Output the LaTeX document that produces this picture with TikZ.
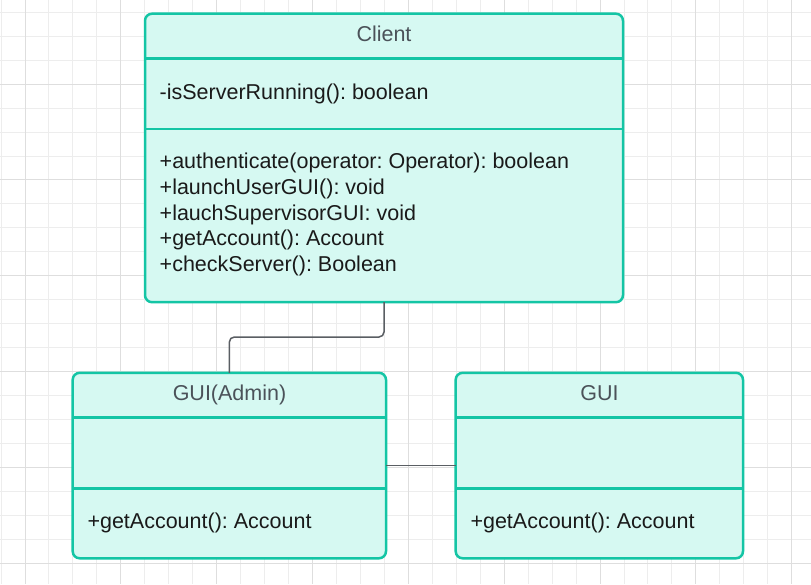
\documentclass[tikz,border=0pt]{standalone}
\usepackage{fontspec}
\setmainfont{Liberation Sans}
\usetikzlibrary{calc}
\definecolor{tealline}{HTML}{14C5A5}
\definecolor{tealfill}{HTML}{D6F9F2}
\definecolor{titlegray}{HTML}{4B5259}
\definecolor{bodytext}{HTML}{1A1A1A}
\definecolor{conngray}{HTML}{5A5E63}
\definecolor{gridminor}{HTML}{EDEDED}
\definecolor{gridmajor}{HTML}{DEDEDE}
\frenchspacing
\begin{document}
\begin{tikzpicture}[x=1pt,y=-1pt,
  classbox/.style={draw=tealline, fill=tealfill, line width=2.5pt, rounded corners=7pt, inner sep=0pt, outer sep=0pt, anchor=north west},
  divider/.style={draw=tealline, line width=2.5pt},
  title/.style={anchor=base, text=titlegray, font=\fontsize{21.5}{25.85}\selectfont, inner sep=0pt},
  member/.style={anchor=base west, text=bodytext, font=\fontsize{21.5}{25.85}\selectfont, inner sep=0pt},
  conn/.style={draw=conngray, line width=1.5pt, rounded corners=5pt},
  minorline/.style={draw=gridminor, line width=1pt},
  majorline/.style={draw=gridmajor, line width=1pt}]
\useasboundingbox (0,0) rectangle (811,584);
\fill[white] (0,0) rectangle (811,584);
% grid
\foreach \k in {-1,...,34} {
  \pgfmathsetmacro\xx{25+23.96*\k}
  \draw[minorline] (\xx,0) -- (\xx,584);
}
\foreach \k in {0,...,24} {
  \pgfmathsetmacro\yy{12.3+23.95*\k}
  \draw[minorline] (0,\yy) -- (811,\yy);
}
\foreach \k in {0,4,...,32} {
  \pgfmathsetmacro\xx{25+23.96*\k}
  \draw[majorline] (\xx,0) -- (\xx,584);
}
\foreach \k in {3,7,...,23} {
  \pgfmathsetmacro\yy{12.3+23.95*\k}
  \draw[majorline] (0,\yy) -- (811,\yy);
}
% class boxes
\node[classbox, minimum width=478pt, minimum height=288.5pt] (client) at (145,13.7) {};
\node[classbox, minimum width=313.3pt, minimum height=185.5pt] (admin) at (72.7,372.8) {};
\node[classbox, minimum width=287.3pt, minimum height=185.5pt] (gui) at (455.7,372.8) {};
% dividers
\draw[divider] (client.west |- 0,58.5) -- (client.east |- 0,58.5);
\draw[divider] (client.west |- 0,129) -- (client.east |- 0,129);
\draw[divider] (admin.west |- 0,417.5) -- (admin.east |- 0,417.5);
\draw[divider] (admin.west |- 0,488.3) -- (admin.east |- 0,488.3);
\draw[divider] (gui.west |- 0,417.5) -- (gui.east |- 0,417.5);
\draw[divider] (gui.west |- 0,488.3) -- (gui.east |- 0,488.3);
% texts
\node[title] (clienttitle) at (384,41.7) {Client};
\node[member] (cattr) at (159.5,99) {-isServerRunning(): boolean};
\node[member] (cm1) at (159.5,168.3) {+authenticate(operator: Operator): boolean};
\node[member] (cm2) at (159.5,194.2) {+launchUserGUI(): void};
\node[member] (cm3) at (159.5,220) {+lauchSupervisorGUI: void};
\node[member] (cm4) at (159.5,245.9) {+getAccount(): Account};
\node[member] (cm5) at (159.5,271.7) {+checkServer(): Boolean};
\node[title] (admintitle) at (229.5,400.7) {GUI(Admin)};
\node[member] (am1) at (87.3,528.3) {+getAccount(): Account};
\node[title] (guititle) at (599.5,400.7) {GUI};
\node[member] (gm1) at (470.3,528.3) {+getAccount(): Account};
% connectors
\draw[conn] (client.south) -- ++(0,34.8) -| (admin.north);
\draw[conn] (admin.east) -- (gui.west);
\end{tikzpicture}
\end{document}
